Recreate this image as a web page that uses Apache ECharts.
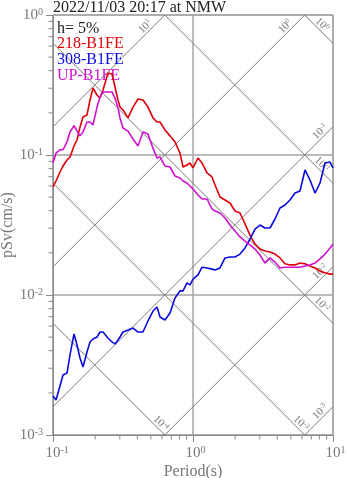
<!DOCTYPE html>
<html><head><meta charset="utf-8">
<script src="https://cdn.jsdelivr.net/npm/echarts@6/dist/echarts.min.js"></script>
<style>html,body{margin:0;padding:0;background:#fff}#c{width:347px;height:478px}</style>
</head><body><div id="c"></div>
<script>
const titleText = '2022/11/03 20:17 at NMW';
const dampingText = 'h= 5%';
const seriesNames = ['218-B1FE', '308-B1FE', 'UP-B1FE'];
const seriesColors = ['#e0000a', '#0a0ae0', '#d010d0'];

// Period (s)
const periods = [0.1, 0.1051, 0.1122, 0.1179, 0.1259, 0.1323, 0.1413, 0.1484, 0.1559, 0.1638,
  0.1749, 0.1838, 0.1931, 0.2063, 0.2167, 0.2276, 0.2471, 0.2639, 0.2773, 0.2913,
  0.3010, 0.3162, 0.3434, 0.3728, 0.4048, 0.4394, 0.4771, 0.5179, 0.5532, 0.5813,
  0.6310, 0.6851, 0.7438, 0.8075, 0.8483, 0.9062, 0.9519, 1.0, 1.086, 1.160,
  1.259, 1.367, 1.437, 1.559, 1.693, 1.838, 1.995, 2.167, 2.352, 2.553,
  2.773, 3.010, 3.268, 3.548, 3.852, 4.182, 4.540, 4.930, 5.352, 5.813,
  6.310, 6.851, 7.438, 8.075, 8.770, 9.519, 10.0];

// pSv (cm/s)
const sv218 = [0.0591, 0.0652, 0.0756, 0.0834, 0.0921, 0.0968, 0.116, 0.128, 0.158, 0.187,
  0.193, 0.247, 0.301, 0.268, 0.255, 0.291, 0.385, 0.379, 0.306, 0.247,
  0.220, 0.210, 0.184, 0.220, 0.251, 0.247, 0.220, 0.184, 0.172, 0.172,
  0.151, 0.137, 0.124, 0.103, 0.0821, 0.0848, 0.0877, 0.0808, 0.0952, 0.0877,
  0.0744, 0.0697, 0.0610, 0.0501, 0.0477, 0.0454, 0.0398, 0.0385, 0.0322, 0.0268,
  0.0231, 0.0213, 0.0206, 0.0203, 0.0196, 0.0184, 0.0167, 0.0164, 0.0164, 0.0169,
  0.0167, 0.0161, 0.0156, 0.0148, 0.0144, 0.0141, 0.0141];

const sv308 = [0.00190, 0.00178, 0.00224, 0.00268, 0.00277, 0.00373, 0.00527, 0.00439, 0.00355, 0.00306,
  0.00392, 0.00462, 0.00485, 0.00501, 0.00544, 0.00544, 0.00493, 0.00462, 0.00447, 0.00477,
  0.00501, 0.00544, 0.00562, 0.00581, 0.00544, 0.00544, 0.00652, 0.00768, 0.00821, 0.00697,
  0.00663, 0.00744, 0.00952, 0.0107, 0.0107, 0.0122, 0.0118, 0.0130, 0.0139, 0.0158,
  0.0156, 0.0153, 0.0151, 0.0156, 0.0184, 0.0187, 0.0187, 0.0196, 0.0217, 0.0251,
  0.0296, 0.0316, 0.0301, 0.0301, 0.0349, 0.0418, 0.0439, 0.0477, 0.0535, 0.0553,
  0.0782, 0.0663, 0.0535, 0.0631, 0.0877, 0.0891, 0.0808];

const svUP = [0.0877, 0.103, 0.109, 0.109, 0.124, 0.146, 0.162, 0.148, 0.137, 0.146,
  0.172, 0.172, 0.164, 0.220, 0.260, 0.282, 0.282, 0.282, 0.255, 0.217,
  0.184, 0.156, 0.148, 0.130, 0.116, 0.146, 0.141, 0.112, 0.0952, 0.0968,
  0.0834, 0.0821, 0.0708, 0.0685, 0.0652, 0.0631, 0.0600, 0.0572, 0.0518, 0.0485,
  0.0485, 0.0412, 0.0398, 0.0385, 0.0355, 0.0316, 0.0287, 0.0260, 0.0243, 0.0228,
  0.0213, 0.0193, 0.0169, 0.0184, 0.0172, 0.0156, 0.0158, 0.0158, 0.0158, 0.0158,
  0.0161, 0.0164, 0.0169, 0.0181, 0.0196, 0.0217, 0.0231];

// Tripartite guide levels
const accelLevels = [0.001, 0.01, 0.1, 1, 10];   // cm/s^2
const dispLevels = [0.0001, 0.001, 0.01, 0.1, 1]; // cm

const T_MIN = 0.1, T_MAX = 10, SV_MIN = 0.001, SV_MAX = 1;
const minorMantissas = [2, 3, 4, 5, 6, 7, 8, 9];
const xDecades = [0.1, 1];
const yDecades = [0.001, 0.01, 0.1];

const SERIF = '"Liberation Serif", "Times New Roman", serif';
const GRAY_TXT = '#777';
const AXIS_C = '#8a8a8a';
const TWO_PI = 2 * Math.PI;

function exp10(v) { return Math.round(Math.log10(v)); }

const axisRich = {
  b: { fontSize: 15, fontFamily: SERIF, color: GRAY_TXT, lineHeight: 16 },
  s: { fontSize: 10, fontFamily: SERIF, color: GRAY_TXT, verticalAlign: 'top', lineHeight: 16 },
  p: { fontSize: 10, fontFamily: SERIF, color: 'rgba(0,0,0,0)', lineHeight: 16 }
};
const diagRich = {
  b: { fontSize: 11, fontFamily: SERIF, fill: GRAY_TXT, color: GRAY_TXT, lineHeight: 12 },
  s: { fontSize: 7, fontFamily: SERIF, fill: GRAY_TXT, color: GRAY_TXT, verticalAlign: 'top', lineHeight: 12 }
};

// guide line data: [x, y, kind, level]
const guideData = [];
accelLevels.forEach(a => guideData.push([1, 0.01, 0, a]));
dispLevels.forEach(d => guideData.push([1, 0.01, 1, d]));

function renderGuide(params, api) {
  const kind = api.value(2), lvl = api.value(3);
  let t0, s0, t1, s1, edge;
  if (kind === 0) {
    t0 = T_MIN; s0 = lvl * t0 / TWO_PI;
    if (s0 < SV_MIN) { s0 = SV_MIN; t0 = TWO_PI * SV_MIN / lvl; }
    t1 = T_MAX; s1 = lvl * t1 / TWO_PI; edge = 'right';
    if (s1 > SV_MAX) { s1 = SV_MAX; t1 = TWO_PI * SV_MAX / lvl; edge = 'top'; }
  } else {
    t0 = T_MIN; s0 = TWO_PI * lvl / t0;
    if (s0 > SV_MAX) { s0 = SV_MAX; t0 = TWO_PI * lvl / SV_MAX; }
    t1 = T_MAX; s1 = TWO_PI * lvl / t1; edge = 'right';
    if (s1 < SV_MIN) { s1 = SV_MIN; t1 = TWO_PI * lvl / SV_MIN; edge = 'bottom'; }
  }
  const a = api.coord([t0, s0]), b = api.coord([t1, s1]);
  const r = Math.SQRT1_2, p = 5.5;
  let ux, uy, nx, ny, s;
  if (kind === 0) { ux = r; uy = -r; nx = -r; ny = -r; s = edge === 'top' ? 22 : 12.5; }
  else { ux = r; uy = r; nx = r; ny = -r; s = edge === 'right' ? 21 : 11; }
  const cx = b[0] - s * ux + p * nx, cy = b[1] - s * uy + p * ny;
  const e = exp10(lvl);
  return {
    type: 'group',
    children: [
      { type: 'line', shape: { x1: a[0], y1: a[1], x2: b[0], y2: b[1] },
        style: { stroke: '#7c7c7c', lineWidth: 1 } },
      { type: 'text', x: cx, y: cy, rotation: kind === 0 ? Math.PI / 4 : -Math.PI / 4,
        style: { text: '{b|10}{s|' + e + '}', rich: diagRich, align: 'center', verticalAlign: 'middle', fill: GRAY_TXT } }
    ]
  };
}

// minor tick data: [x, y, axisFlag]
const tickData = [];
xDecades.forEach(d => minorMantissas.forEach(m => tickData.push([d * m, SV_MIN, 0])));
yDecades.forEach(d => minorMantissas.forEach(m => tickData.push([T_MIN, d * m, 1])));

function renderTick(params, api) {
  const pt = api.coord([api.value(0), api.value(1)]);
  const flag = api.value(2);
  const L = 4.5;
  const shape = flag === 0
    ? { x1: pt[0], y1: pt[1], x2: pt[0], y2: pt[1] + L }
    : { x1: pt[0] - L, y1: pt[1], x2: pt[0], y2: pt[1] };
  return { type: 'line', shape: shape, style: { stroke: AXIS_C, lineWidth: 1 } };
}

const chart = echarts.init(document.getElementById('c'), null, { renderer: 'canvas' });
const lineSeries = [sv218, sv308, svUP].map((vals, i) => ({
  name: seriesNames[i],
  type: 'line',
  data: periods.map((t, j) => [t, vals[j]]),
  showSymbol: false,
  symbol: 'none',
  smooth: false,
  lineStyle: { color: seriesColors[i], width: 1.6 },
  itemStyle: { color: seriesColors[i] },
  z: 5,
  clip: true
}));

chart.setOption({
  animation: false,
  backgroundColor: '#fff',
  title: {
    text: titleText, left: 53, top: 0, padding: 0,
    textStyle: { fontFamily: SERIF, fontSize: 16, fontWeight: 'normal', color: '#222' }
  },
  graphic: [{
    type: 'text', left: 57, top: 21,
    style: { text: dampingText, font: '16px "Liberation Serif", serif', fill: '#222' }
  }],
  legend: {
    orient: 'vertical', left: 52, top: 36, padding: 0, itemGap: 0,
    itemWidth: 0, itemHeight: 15, icon: 'none',
    textStyle: { fontFamily: SERIF, fontSize: 16, lineHeight: 15.5 },
    data: seriesNames.map((n, i) => ({ name: n, textStyle: { color: seriesColors[i] } }))
  },
  grid: { left: 53, top: 15, right: 14, bottom: 43, containLabel: false, outerBoundsMode: 'none',
    show: true, borderColor: AXIS_C, borderWidth: 1 },
  xAxis: {
    type: 'log', logBase: 10, min: T_MIN, max: T_MAX,
    name: 'Period(s)', nameLocation: 'middle', nameGap: 29, nameMoveOverlap: false,
    nameTextStyle: { fontFamily: SERIF, fontSize: 16, color: GRAY_TXT },
    axisLine: { show: true, lineStyle: { color: AXIS_C, width: 1 } },
    axisTick: { show: true, inside: false, length: 7, lineStyle: { color: AXIS_C } },
    minorTick: { show: false },
    axisLabel: { margin: 10, formatter: v => { const e = exp10(v); return '{p|' + e + '}{b|10}{s|' + e + '}'; }, rich: axisRich },
    splitLine: { show: true, lineStyle: { color: '#a4a4a4', width: 1.5 } }
  },
  yAxis: {
    type: 'log', logBase: 10, min: SV_MIN, max: SV_MAX,
    name: 'pSv(cm/s)', nameLocation: 'middle', nameGap: 37, nameMoveOverlap: false,
    nameTextStyle: { fontFamily: SERIF, fontSize: 16, color: GRAY_TXT },
    axisLine: { show: true, lineStyle: { color: AXIS_C, width: 1 } },
    axisTick: { show: true, inside: false, length: 7, lineStyle: { color: AXIS_C } },
    minorTick: { show: false },
    axisLabel: { margin: 10, formatter: v => '{b|10}{s|' + exp10(v) + '}', rich: axisRich },
    splitLine: { show: true, lineStyle: { color: '#a4a4a4', width: 1.5 } }
  },
  series: [
    { type: 'custom', name: 'guides', data: guideData, renderItem: renderGuide, z: 2, silent: true, clip: false,
      encode: { x: 0, y: 1 } },
    { type: 'custom', name: 'ticks', data: tickData, renderItem: renderTick, z: 2, silent: true, clip: false,
      encode: { x: 0, y: 1 } }
  ].concat(lineSeries)
});
</script>
</body></html>
